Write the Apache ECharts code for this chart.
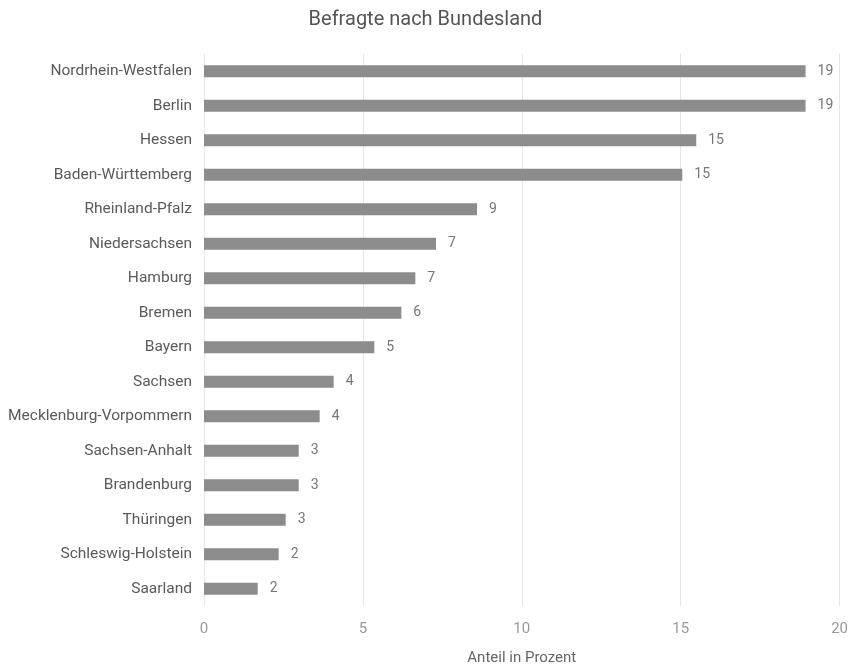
<!DOCTYPE html>
<html><head><meta charset="utf-8">
<script src="https://cdn.jsdelivr.net/npm/echarts@6/dist/echarts.min.js"></script>
<style>html,body{margin:0;padding:0;background:#fff}#c{width:851px;height:671px}</style>
</head><body><div id="c"></div>
<script>
var categories = ["Nordrhein-Westfalen","Berlin","Hessen","Baden-Württemberg","Rheinland-Pfalz","Niedersachsen","Hamburg","Bremen","Bayern","Sachsen","Mecklenburg-Vorpommern","Sachsen-Anhalt","Brandenburg","Thüringen","Schleswig-Holstein","Saarland"];
var values = [18.93,18.93,15.49,15.05,8.59,7.30,6.65,6.21,5.36,4.08,3.64,2.98,2.98,2.57,2.35,1.69];
var labels = [19,19,15,15,9,7,7,6,5,4,4,3,3,3,2,2];
var xTicks = [0,5,10,15,20];
var FONT = '"Roboto","Noto Sans",sans-serif';
var chart = echarts.init(document.getElementById('c'));
chart.setOption({
  animation:false,
  backgroundColor:'#fff',
  title:{text:'Befragte nach Bundesland',left:'center',top:5,textStyle:{color:'#555',fontSize:20,fontWeight:'normal',fontFamily:FONT}},
  grid:{left:204,right:9,top:54,bottom:62,containLabel:false},
  xAxis:{type:'value',min:xTicks[0],max:xTicks[xTicks.length-1],interval:5,
    name:'Anteil in Prozent',nameLocation:'middle',nameGap:45,
    nameTextStyle:{color:'#666',fontSize:15,fontFamily:FONT},
    axisLine:{show:false},axisTick:{show:false},
    axisLabel:{color:'#999',fontSize:15,margin:16,fontFamily:FONT},
    splitLine:{lineStyle:{color:'#e6e6e6',width:1}}},
  yAxis:{type:'category',inverse:true,data:categories,
    axisLine:{show:false},axisTick:{show:false},
    axisLabel:{color:'#5a5a5a',fontSize:15.5,margin:12,fontFamily:FONT}},
  series:[{type:'bar',data:values,barWidth:12,itemStyle:{color:'#8c8c8c'},
    label:{show:true,position:'right',distance:12,color:'#777',fontSize:14,fontFamily:FONT,
      formatter:function(p){return labels[p.dataIndex];}}}]
});
</script></body></html>
